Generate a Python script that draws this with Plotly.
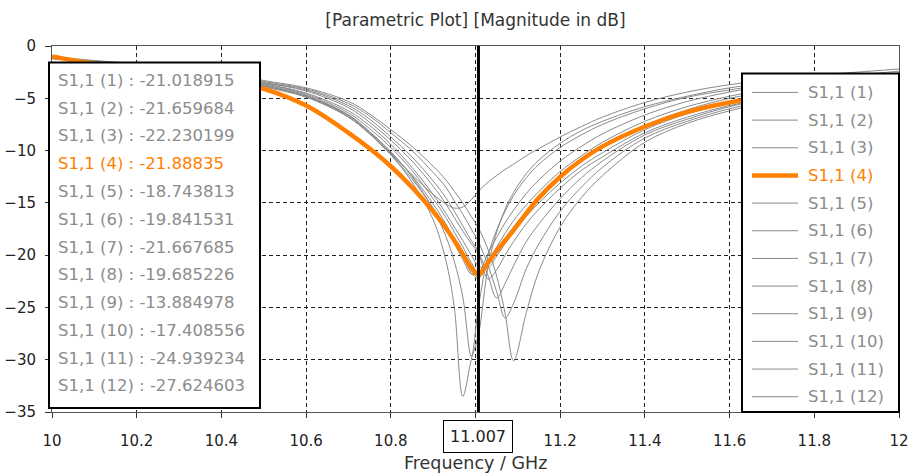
import plotly.graph_objects as go

# ---------------- data ----------------
freq = [10.0, 10.1, 10.2, 10.3, 10.4, 10.5, 10.6, 10.7, 10.75, 10.8, 10.85, 10.9, 10.93, 10.95, 10.97, 10.99,
        11.007, 11.03, 11.05, 11.07, 11.09, 11.12, 11.15, 11.2, 11.25, 11.3, 11.4, 11.5, 11.6, 11.7, 11.8, 11.9, 12.0]

s1 = [-1.1, -1.5, -1.9, -2.3, -2.8, -3.6, -4.5, -6.2, -7.6, -9.4, -11.6, -14.2, -16.0, -17.3, -18.6, -20.0,
      -21.02, -21.2, -20.1, -18.9, -17.8, -16.3, -15.0, -13.1, -11.5, -10.2, -8.0, -6.5, -5.5, -4.8, -4.2, -3.8, -3.5]
s2 = [-1.1, -1.5, -1.9, -2.3, -2.8, -3.6, -4.6, -6.4, -7.9, -9.7, -11.9, -14.6, -16.4, -17.8, -19.2, -20.7,
      -21.66, -21.0, -19.7, -18.4, -17.3, -15.8, -14.5, -12.6, -11.0, -9.7, -7.6, -6.1, -5.0, -4.3, -3.8, -3.4, -3.1]
s3 = [-1.1, -1.5, -1.9, -2.3, -2.9, -3.7, -4.7, -6.6, -8.2, -10.2, -12.4, -15.1, -17.0, -18.5, -20.0, -21.7,
      -22.23, -20.6, -19.2, -17.9, -16.7, -15.2, -13.9, -12.0, -10.5, -9.2, -7.2, -5.8, -4.8, -4.0, -3.4, -3.0, -2.6]
s4 = [-1.0, -1.7, -2.1, -2.6, -3.2, -4.1, -5.7, -8.3, -9.8, -11.5, -13.5, -15.8, -17.4, -18.6, -19.9, -21.2,
      -21.88835, -20.7, -19.6, -18.6, -17.6, -16.0, -14.5, -12.5, -10.9, -9.6, -7.7, -6.3, -5.4, -4.7, -4.1, -3.7, -3.4]
s5 = [-1.2, -1.5, -1.8, -2.1, -2.6, -3.4, -4.1, -5.5, -6.7, -8.3, -10.0, -12.1, -13.5, -14.8, -16.1, -17.5,
      -18.74, -21.0, -23.5, -26.0, -24.6, -21.3, -18.9, -15.8, -13.5, -11.6, -8.8, -7.2, -6.0, -5.2, -4.5, -4.0, -3.7]
s6 = [-1.2, -1.5, -1.8, -2.2, -2.7, -3.5, -4.3, -5.9, -7.3, -9.0, -11.0, -13.4, -15.1, -16.4, -17.7, -18.9,
      -19.84, -22.3, -21.4, -20.0, -18.7, -17.0, -15.6, -13.6, -11.9, -10.6, -8.3, -6.8, -5.7, -4.9, -4.3, -3.9, -3.6]
s7 = [-1.1, -1.5, -1.9, -2.4, -2.9, -3.8, -4.8, -6.8, -8.4, -10.4, -12.7, -15.5, -17.4, -18.9, -20.4, -21.8,
      -21.67, -19.8, -18.3, -16.9, -15.7, -14.1, -12.8, -11.0, -9.6, -8.4, -6.6, -5.3, -4.4, -3.7, -3.2, -2.8, -2.4]
s8 = [-1.2, -1.5, -1.8, -2.2, -2.7, -3.5, -4.2, -5.7, -7.0, -8.7, -10.6, -12.9, -14.5, -15.8, -17.2, -18.6,
      -19.69, -22.0, -24.1, -22.7, -21.0, -18.7, -17.0, -14.6, -12.6, -11.0, -8.5, -7.0, -5.8, -5.0, -4.4, -3.9, -3.6]
s9 = [-1.0, -1.4, -1.8, -2.3, -2.9, -3.8, -4.8, -6.7, -8.3, -10.3, -12.3, -14.2, -15.1, -15.5, -15.4, -14.7,
      -13.88, -13.0, -12.4, -11.8, -11.3, -10.5, -9.8, -8.7, -7.7, -6.8, -5.4, -4.4, -3.7, -3.2, -2.8, -2.5, -2.2]
s10 = [-1.2, -1.4, -1.7, -2.1, -2.5, -3.3, -4.0, -5.3, -6.5, -8.0, -9.6, -11.5, -12.8, -13.9, -15.0, -16.3,
       -17.41, -19.5, -22.0, -25.6, -30.1, -25.5, -21.5, -17.3, -14.5, -12.4, -9.2, -7.4, -6.2, -5.3, -4.6, -4.1, -3.8]
s11 = [-1.1, -1.5, -1.9, -2.4, -2.9, -3.8, -4.8, -6.6, -8.2, -10.1, -12.5, -15.6, -18.2, -20.6, -24.0, -29.7,
       -24.94, -20.0, -17.6, -15.8, -14.3, -12.6, -11.3, -9.7, -8.5, -7.5, -6.0, -4.9, -4.2, -3.6, -3.2, -2.9, -2.7]
s12 = [-1.1, -1.5, -1.9, -2.4, -3.0, -3.9, -4.9, -6.8, -8.4, -10.4, -13.0, -16.6, -20.5, -25.0, -33.5, -30.0,
       -27.62, -21.0, -17.8, -15.6, -14.0, -12.2, -10.9, -9.3, -8.1, -7.2, -5.8, -4.8, -4.0, -3.5, -3.1, -2.8, -2.6]

series = [s1, s2, s3, s4, s5, s6, s7, s8, s9, s10, s11, s12]
labels = ["S1,1 (%d)" % i for i in range(1, 13)]
marker_freq = 11.007
marker_values = ["-21.018915", "-21.659684", "-22.230199", "-21.88835", "-18.743813", "-19.841531",
                 "-21.667685", "-19.685226", "-13.884978", "-17.408556", "-24.939234", "-27.624603"]
highlight = 3  # S1,1 (4)

x_ticks = [10, 10.2, 10.4, 10.6, 10.8, 11.0, 11.2, 11.4, 11.6, 11.8, 12]
x_ticktext = ["10", "10.2", "10.4", "10.6", "10.8", "", "11.2", "11.4", "11.6", "11.8", "12"]
y_ticks = [0, -5, -10, -15, -20, -25, -30, -35]

# ---------------- styling ----------------
GRAY = "#8a8a8a"
ORANGE = "#ff8000"
TXT_GRAY = "#8c8c8c"
FONT = "DejaVu Sans"

W, H = 911, 473
L, R, T, B = 52, 12, 45.5, 61
pw, ph = W - L - R, H - T - B


def px(xp):
    return (xp - L) / pw


def py(yp):
    return (H - B - yp) / ph


fig = go.Figure()
order = [i for i in range(12) if i != highlight] + [highlight]
for i in order:
    fig.add_trace(go.Scatter(
        x=freq, y=series[i], mode="lines", name=labels[i],
        line=dict(color=ORANGE if i == highlight else GRAY, width=4.5 if i == highlight else 1,
                  shape="spline", smoothing=1.0),
        showlegend=False, hoverinfo="skip"))

shapes = []
annotations = []

# marker line
shapes.append(dict(type="line", xref="x", yref="paper", x0=marker_freq, x1=marker_freq, y0=0, y1=1,
                   line=dict(color="black", width=3), layer="above"))

# left box (marker values)
shapes.append(dict(type="rect", xref="paper", yref="paper", x0=px(49), x1=px(260), y0=py(408), y1=py(62),
                   fillcolor="white", line=dict(color="black", width=2), layer="above"))
for i, (lab, val) in enumerate(zip(labels, marker_values)):
    annotations.append(dict(xref="paper", yref="paper", x=px(56), y=py(80 + 27.8 * i),
                            xanchor="left", yanchor="middle", showarrow=False,
                            text="%s : %s" % (lab, val),
                            font=dict(family=FONT, size=16.5, color=ORANGE if i == highlight else TXT_GRAY)))

# right box (legend)
shapes.append(dict(type="rect", xref="paper", yref="paper", x0=px(742), x1=px(899), y0=py(412), y1=py(73),
                   fillcolor="white", line=dict(color="black", width=2), layer="above"))
for i, lab in enumerate(labels):
    yy = py(92 + 27.7 * i)
    shapes.append(dict(type="line", xref="paper", yref="paper", x0=px(752), x1=px(798), y0=yy, y1=yy,
                       line=dict(color=ORANGE if i == highlight else GRAY,
                                 width=4.5 if i == highlight else 1), layer="above"))
    annotations.append(dict(xref="paper", yref="paper", x=px(806), y=yy,
                            xanchor="left", yanchor="middle", showarrow=False, text=lab,
                            font=dict(family=FONT, size=16.5, color=ORANGE if i == highlight else TXT_GRAY)))

# boxed marker tick label
annotations.append(dict(xref="x", yref="paper", x=marker_freq, y=py(437), xanchor="center", yanchor="middle",
                        showarrow=False, text="%.3f" % marker_freq, bgcolor="white",
                        bordercolor="black", borderwidth=1, borderpad=6,
                        font=dict(family=FONT, size=16, color="#222")))
# x axis title
annotations.append(dict(xref="paper", yref="paper", x=0.5, y=py(463), xanchor="center", yanchor="middle",
                        showarrow=False, text="Frequency / GHz",
                        font=dict(family=FONT, size=17.5, color="#333")))

fig.update_layout(
    width=W, height=H, margin=dict(l=L, r=R, t=T, b=B, autoexpand=False),
    paper_bgcolor="white", plot_bgcolor="white",
    title=dict(text="[Parametric Plot] [Magnitude in dB]", x=0.5, xref="paper", xanchor="center",
               y=1 - 20 / H, yanchor="middle", font=dict(family=FONT, size=17, color="#333")),
    shapes=shapes, annotations=annotations,
    showlegend=False,
)
fig.update_xaxes(range=[10, 12], tickvals=x_ticks, ticktext=x_ticktext, automargin=False,
                 showgrid=True, gridcolor="#222", griddash="4px,3px", gridwidth=1,
                 showline=True, mirror=True, linecolor="#555", linewidth=1,
                 ticks="outside", ticklen=5, tickcolor="#333", ticklabelstandoff=10,
                 tickfont=dict(family=FONT, size=15, color="#222"), zeroline=False)
fig.update_yaxes(range=[-35, 0], tickvals=y_ticks, automargin=False,
                 showgrid=True, gridcolor="#222", griddash="4px,3px", gridwidth=1,
                 showline=True, mirror=True, linecolor="#555", linewidth=1,
                 ticks="outside", ticklen=6, tickcolor="#333", ticklabelstandoff=6,
                 tickfont=dict(family=FONT, size=15, color="#222"), zeroline=False)

fig.write_html("out.html")
